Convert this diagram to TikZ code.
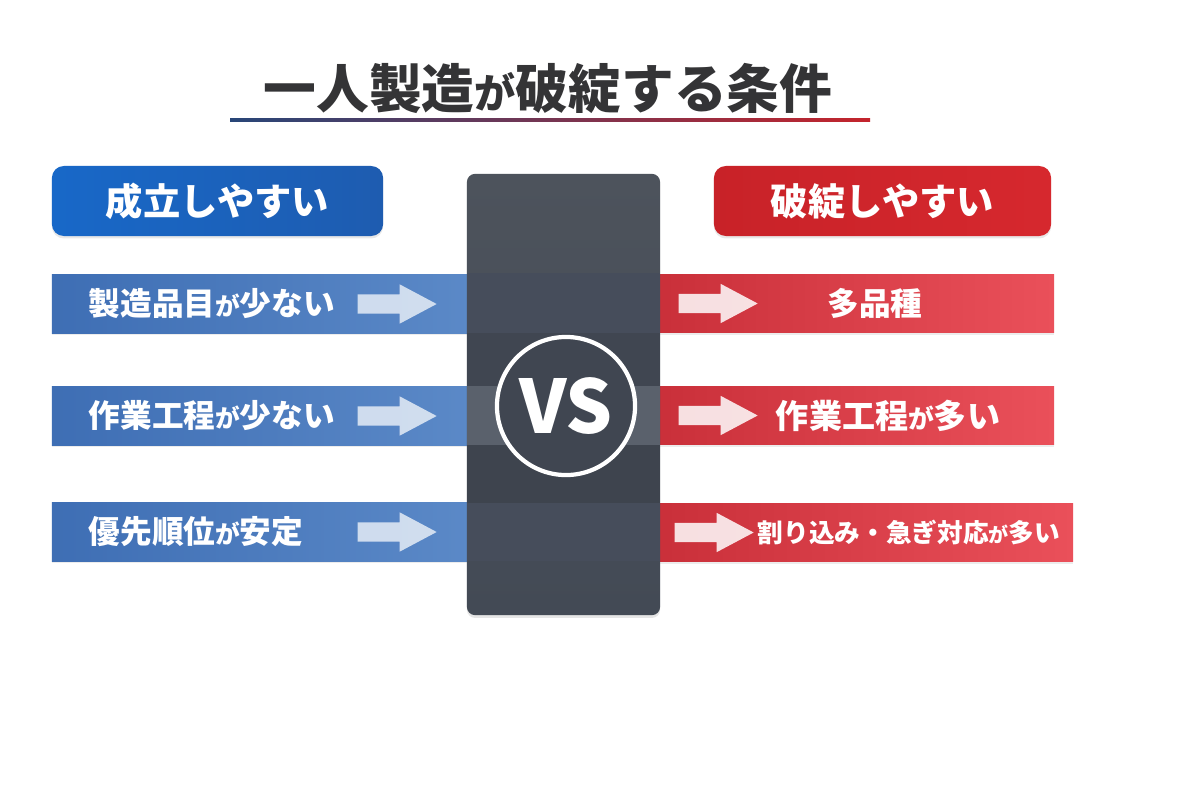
\documentclass[tikz,border=0pt]{standalone}
\usepackage{fontspec}
\setmainfont{Noto Sans CJK JP}
\usepackage{graphicx}
\usepackage{tikz}
\usetikzlibrary{shapes.arrows, shadows}
\tikzset{>=latex}
\definecolor{ink}{RGB}{52, 52, 54}
\definecolor{headblue}{RGB}{24, 104, 200}
\definecolor{headblueb}{RGB}{30, 92, 176}
\definecolor{headred}{RGB}{214, 40, 46}
\definecolor{headredb}{RGB}{200, 34, 40}
\definecolor{barblue}{RGB}{62, 110, 180}
\definecolor{barblueb}{RGB}{92, 138, 200}
\definecolor{barred}{RGB}{200, 46, 56}
\definecolor{barredb}{RGB}{234, 80, 90}
\definecolor{panel}{RGB}{67, 74, 85}
\definecolor{paneltop}{RGB}{77, 83, 92}
\definecolor{stripe}{RGB}{70, 77, 91}
\definecolor{stripemid}{RGB}{90, 97, 108}
\definecolor{linenavy}{RGB}{40, 70, 120}
\definecolor{linered}{RGB}{196, 36, 44}
\newcommand{\ga}{\scalebox{0.78}{が}}
\tikzset{
  head/.style={rounded corners=3.4pt, minimum height=0.70cm, inner sep=0pt,
    text=white, font=\fontsize{10.6pt}{11pt}\selectfont\bfseries,
    drop shadow={opacity=0.18, shadow xshift=0pt, shadow yshift=-0.7pt}},
  bar/.style={minimum height=0.58cm, inner sep=0pt,
    drop shadow={opacity=0.15, shadow xshift=0pt, shadow yshift=-0.6pt}},
  bartext/.style={text=white, inner sep=0pt, font=\fontsize{9pt}{9pt}\selectfont\bfseries},
  blockarrow/.style={single arrow, draw=none, inner xsep=0pt, inner ysep=0.09cm,
    minimum height=0.79cm, single arrow head extend=0.1cm, single arrow head indent=0pt,
    single arrow tip angle=56}
}

\begin{document}
\begin{tikzpicture}[x=0.01cm, y=-0.01cm]
\useasboundingbox[fill=white] (0,0) rectangle (1200,800);

% title
\node[text=ink, inner sep=0pt, font=\fontsize{15pt}{15pt}\selectfont\bfseries] (title) at (548,88) {一人製造\ga 破綻する条件};
\shade[left color=linenavy, middle color=ink, right color=linered] (230,118) rectangle (870,121);

% headers
\node[head, left color=headblue, right color=headblueb, minimum width=3.31cm] (good) at (217.5,201) {成立しやすい};
\node[head, left color=headredb, right color=headred, minimum width=3.37cm] (bad) at (882.5,201) {破綻しやすい};

% left bars
\foreach \i / \y / \t in {1/304/製造品目\ga 少ない, 2/416/作業工程\ga 少ない, 3/532/優先順位\ga 安定}{
	\node[bar, left color=barblue, right color=barblueb, minimum width=4.35cm] (l\i) at (269.5,\y) {};
	\node[bartext, anchor=west] (lt\i) at (88,\y) {\t};
	\node[blockarrow, fill=white, fill opacity=0.72] (la\i) at (388,\y) {};
}

% right bars
\node[bar, left color=barred, right color=barredb, minimum width=4.14cm] (r1) at (847,303.5) {};
\node[bar, left color=barred, right color=barredb, minimum width=4.14cm] (r2) at (847,415.5) {};
\node[bar, left color=barred, right color=barredb, minimum width=4.33cm] (r3) at (856.5,532.5) {};
\node[bartext] (rt1) at (875,303.5) {多品種};
\node[bartext, font=\fontsize{9.4pt}{9pt}\selectfont\bfseries] (rt2) at (888,415.5) {作業工程\ga 多い};
\node[bartext, font=\fontsize{7.3pt}{8pt}\selectfont\bfseries] (rt3) at (909,533) {割り込み・急ぎ対応\ga 多い};
\foreach \i / \x / \y in {1/709/303.5, 2/709/415.5, 3/705/532.5}{
	\node[blockarrow, fill=white, fill opacity=0.85] (ra\i) at (\x,\y) {};
}

% vs panel
\node[rounded corners=2.3pt, top color=paneltop, bottom color=panel, minimum width=1.93cm,
	minimum height=4.41cm, inner sep=0pt,
	drop shadow={opacity=0.2, shadow xshift=0pt, shadow yshift=-0.8pt}] (mid) at (563.5,394.5) {};
\fill[stripe] (467,273) rectangle (660,333);
\fill[panel!95!black] (467,333) rectangle (660,386);
\fill[stripemid] (467,386) rectangle (660,445);
\fill[panel!92!black] (467,445) rectangle (660,503);
\fill[stripe] (467,503) rectangle (660,561);
\node[circle, draw=white, line width=1.2pt, fill=panel!95!black, minimum size=1.38cm, inner sep=0pt] (vsring) at (566,406) {};
\node[text=white, inner sep=0pt, font=\fontsize{21pt}{21pt}\selectfont\bfseries] (vs) at (vsring) {VS};

\end{tikzpicture}
\end{document}
